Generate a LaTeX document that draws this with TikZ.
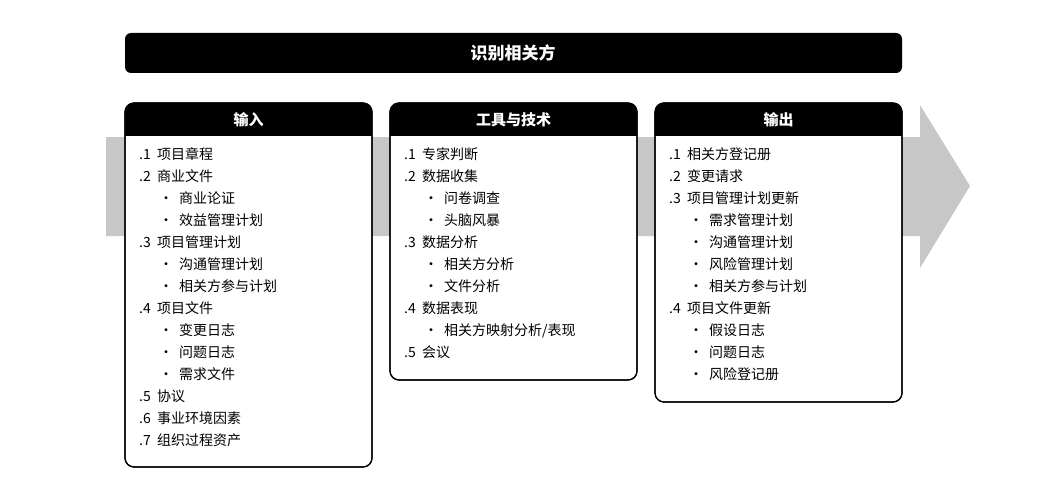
\documentclass[tikz,border=0pt]{standalone}
\usepackage{fontspec}
\setmainfont{Noto Sans CJK SC}
\begin{document}
\begin{tikzpicture}[x=1pt,y=-1pt,
  box/.style={draw=black,line width=1.2pt,rounded corners=9pt,fill=white},
  htxt/.style={text=white,font=\fontsize{15}{18}\selectfont\bfseries},
  lst/.style={anchor=north west,align=left,inner sep=0pt,font=\fontsize{14}{22}\selectfont}]
\useasboundingbox (0,0) rectangle (1040,500);
\newcommand\myit[2]{\makebox[18pt][l]{#1}#2}
\newcommand\mysb[1]{\hspace{20pt}•\hspace{6pt}#1}
% gray arrow
\fill[black!22] (106,137) -- (920,137) -- (920,105) -- (970,186) -- (920,268) -- (920,236) -- (106,236) -- cycle;
% title
\fill[black,rounded corners=6pt] (125,33) rectangle (902,73);
\node[htxt,font=\fontsize{17}{20}\selectfont\bfseries] (title) at (513,53) {识别相关方};
% boxes
\foreach \x/\yb/\n/\t in {125/467/a/输入,390/380/b/工具与技术,655/402/c/输出}{
  \draw[box] (\x,103) rectangle (\x+247,\yb);
  \begin{scope}
  \clip[rounded corners=9pt] (\x,103) rectangle (\x+247,\yb);
  \fill[black] (\x,103) rectangle (\x+247,136);
  \end{scope}
  \draw[line width=1.2pt,rounded corners=9pt] (\x,103) rectangle (\x+247,\yb);
  \node[htxt] (h\n) at (\x+123.5,120) {\t};
}
\node[lst] (la) at (139,147) {\myit{.1}{项目章程}\\ \myit{.2}{商业文件}\\ \mysb{商业论证}\\ \mysb{效益管理计划}\\
\myit{.3}{项目管理计划}\\ \mysb{沟通管理计划}\\ \mysb{相关方参与计划}\\ \myit{.4}{项目文件}\\
\mysb{变更日志}\\ \mysb{问题日志}\\ \mysb{需求文件}\\ \myit{.5}{协议}\\ \myit{.6}{事业环境因素}\\ \myit{.7}{组织过程资产}};
\node[lst] (lb) at (404,147) {\myit{.1}{专家判断}\\ \myit{.2}{数据收集}\\ \mysb{问卷调查}\\ \mysb{头脑风暴}\\
\myit{.3}{数据分析}\\ \mysb{相关方分析}\\ \mysb{文件分析}\\ \myit{.4}{数据表现}\\ \mysb{相关方映射分析/表现}\\ \myit{.5}{会议}};
\node[lst] (lc) at (669,147) {\myit{.1}{相关方登记册}\\ \myit{.2}{变更请求}\\ \myit{.3}{项目管理计划更新}\\
\mysb{需求管理计划}\\ \mysb{沟通管理计划}\\ \mysb{风险管理计划}\\ \mysb{相关方参与计划}\\
\myit{.4}{项目文件更新}\\ \mysb{假设日志}\\ \mysb{问题日志}\\ \mysb{风险登记册}};
\end{tikzpicture}
\end{document}
